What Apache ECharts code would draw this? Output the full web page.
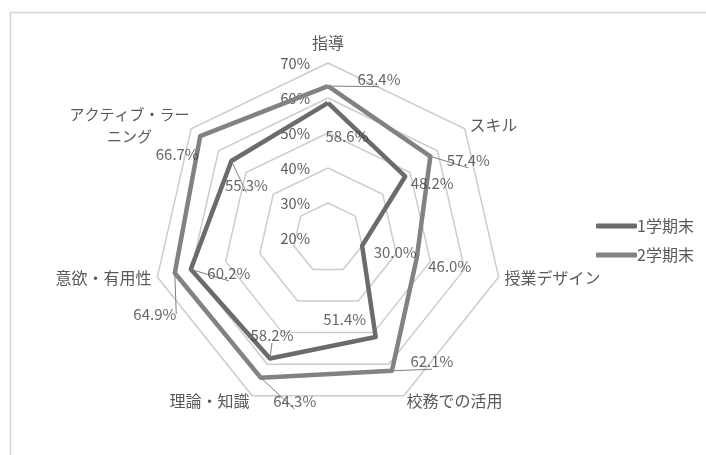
<!DOCTYPE html>
<html>
<head>
<meta charset="utf-8">
<script src="https://cdn.jsdelivr.net/npm/echarts@6/dist/echarts.min.js"></script>
<style>
html,body{margin:0;padding:0;background:#fff;}
#chart{width:706px;height:455px;}
</style>
</head>
<body>
<div id="chart"></div>
<script>
// ---- data ----
const categories = ['指導', 'スキル', '授業デザイン', '校務での活用', '理論・知識', '意欲・有用性', 'アクティブ・ラーニング'];
const seriesNames = ['1学期末', '2学期末'];
const term1 = [58.6, 48.2, 30.0, 51.4, 58.2, 60.2, 55.3];
const term2 = [63.4, 57.4, 46.0, 62.1, 64.3, 64.9, 66.7];
const radialTicks = [20, 30, 40, 50, 60, 70];

// ---- label placement (pixel offsets from the data point) ----
const term1LabelOffsets = [[19, 33], [27, 7], [33, 7], [-31, -18], [2, -23], [38, 4], [15, 24]];
const term1LeaderLines = [false, false, false, false, true, true, true];
const term2LabelOffsets = [[51, -7], [38, 4], [33, 8], [40, -9], [34, 24], [-20, 41], [-23, 18]];
const term2LeaderLines = [true, true, false, true, true, true, false];

const FONT = '"Noto Sans CJK JP", "Noto Sans", sans-serif';
const colors = ['#6b6b6b', '#828282'];
const cx = 328, cy = 238, R = 175;
const n = categories.length;
const rMin = radialTicks[0], rMax = radialTicks[radialTicks.length - 1];

// radar lays indicators counter-clockwise; reorder so they run clockwise
const order = categories.map((c, j) => (n - j) % n);
const reorder = arr => order.map(i => arr[i]);

function labelPoints(vals, offsets, leaders) {
  return vals.map((v, k) => ({
    value: [v, k],
    label: { offset: offsets[k] },
    labelLine: { show: leaders[k] }
  }));
}

const chart = echarts.init(document.getElementById('chart'), null, { renderer: 'canvas' });
chart.setOption({
  backgroundColor: '#ffffff',
  animation: false,
  textStyle: { fontFamily: FONT },
  graphic: [{
    type: 'rect', left: 8, top: 10, silent: true,
    shape: { width: 760, height: 520 },
    style: { fill: 'none', stroke: '#d4d4d4', lineWidth: 1.5 }
  }],
  legend: {
    data: seriesNames,
    orient: 'vertical',
    left: 591, top: 213,
    itemWidth: 41, itemHeight: 5, itemGap: 13,
    icon: 'roundRect',
    textStyle: { fontSize: 16, color: '#595959', fontFamily: FONT, padding: [0, 0, 0, -5] }
  },
  radar: {
    center: [cx, cy],
    radius: R,
    startAngle: 90,
    splitNumber: radialTicks.length - 1,
    shape: 'polygon',
    nameGap: 6,
    indicator: reorder(categories).map(name => ({ name: name, min: rMin, max: rMax })),
    axisName: {
      color: '#595959',
      fontSize: 16,
      fontFamily: FONT,
      formatter: function (name) {
        if (name === categories[0]) return '{top|' + name + '}';
        if (name.length > 8) {
          return '{w|' + name.slice(0, 8) + '}\n{w|' + name.slice(8) + '}';
        }
        return name;
      },
      rich: {
        top: { fontSize: 16, color: '#595959', fontFamily: FONT, padding: [0, 0, 6, 0] },
        w: { fontSize: 15, color: '#595959', fontFamily: FONT, width: 114, align: 'center', lineHeight: 22 }
      }
    },
    axisLine: { show: false },
    axisTick: { show: false },
    axisLabel: { show: false },
    splitArea: { show: false },
    splitLine: { lineStyle: { color: '#cdcdcd', width: 1.5 } }
  },
  polar: { center: [cx, cy], radius: [0, R] },
  angleAxis: {
    type: 'value', min: 0, max: n, startAngle: 90, clockwise: true,
    show: false
  },
  radiusAxis: {
    type: 'value', min: rMin, max: rMax, interval: 10,
    axisLine: { show: false },
    axisTick: { show: false },
    splitLine: { show: false },
    axisLabel: {
      show: true, margin: 18,
      formatter: '{value}%',
      color: '#595959', fontSize: 14.5, fontFamily: FONT
    }
  },
  series: [
    {
      type: 'radar',
      symbol: 'none',
      silent: true,
      data: [
        { name: seriesNames[0], value: reorder(term1), lineStyle: { color: colors[0], width: 4.5 }, itemStyle: { color: colors[0] } },
        { name: seriesNames[1], value: reorder(term2), lineStyle: { color: colors[1], width: 4.5 }, itemStyle: { color: colors[1] } }
      ]
    },
    {
      type: 'scatter', coordinateSystem: 'polar', silent: true,
      symbolSize: 1, itemStyle: { color: 'rgba(0,0,0,0)' }, z: 5,
      label: {
        show: true, position: 'inside',
        formatter: p => p.value[0].toFixed(1) + '%',
        color: '#404040', fontSize: 15, fontFamily: FONT
      },
      labelLine: { show: false, lineStyle: { color: '#808080', width: 1 } },
      data: labelPoints(term1, term1LabelOffsets, term1LeaderLines)
    },
    {
      type: 'scatter', coordinateSystem: 'polar', silent: true,
      symbolSize: 1, itemStyle: { color: 'rgba(0,0,0,0)' }, z: 5,
      label: {
        show: true, position: 'inside',
        formatter: p => p.value[0].toFixed(1) + '%',
        color: '#404040', fontSize: 15, fontFamily: FONT
      },
      labelLine: { show: false, lineStyle: { color: '#808080', width: 1 } },
      data: labelPoints(term2, term2LabelOffsets, term2LeaderLines)
    }
  ]
});
</script>
</body>
</html>
